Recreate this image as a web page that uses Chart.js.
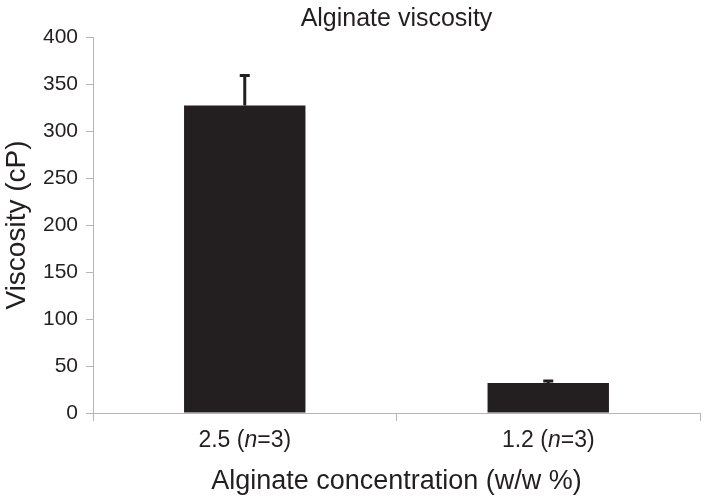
<!DOCTYPE html>
<html>
<head>
<meta charset="utf-8">
<script src="https://cdn.jsdelivr.net/npm/chart.js@4"></script>
<style>
  html, body { margin: 0; padding: 0; background: #fff; }
  #wrap { width: 705px; height: 498px; }
</style>
</head>
<body>
<div id="wrap"><canvas id="viscosityChart" width="705" height="498"></canvas></div>
<script>
// values
const concentrations = ['2.5', '1.2'];
const sampleSizes = [3, 3];
const viscosity = [327, 32];
const viscosityError = [33, 3];
const yTicks = [0, 50, 100, 150, 200, 250, 300, 350, 400];

const FONT = "'Liberation Sans', Arial, sans-serif";
const AXIS_GREY = '#b5b5b5';

// upward-only error bars with a small cap
const errorBars = {
  id: 'errorBars',
  afterDatasetsDraw(chart) {
    const ctx = chart.ctx;
    const yScale = chart.scales.y;
    const meta = chart.getDatasetMeta(0);
    ctx.save();
    ctx.strokeStyle = '#231f20';
    ctx.lineWidth = 3;
    meta.data.forEach((bar, i) => {
      const top = yScale.getPixelForValue(viscosity[i] + viscosityError[i]);
      ctx.beginPath();
      ctx.moveTo(bar.x, bar.y);
      ctx.lineTo(bar.x, top);
      ctx.moveTo(bar.x - 5, top + 1);
      ctx.lineTo(bar.x + 5, top + 1);
      ctx.stroke();
    });
    ctx.restore();
  }
};

// category labels with italic n
const categoryLabels = {
  id: 'categoryLabels',
  afterDraw(chart) {
    const ctx = chart.ctx;
    const xScale = chart.scales.x;
    const size = 23;
    ctx.save();
    ctx.fillStyle = '#231f20';
    ctx.textBaseline = 'middle';
    concentrations.forEach((c, i) => {
      const parts = [
        [c + ' (', 'normal'],
        ['n', 'italic'],
        ['=' + sampleSizes[i] + ')', 'normal']
      ];
      let total = 0;
      parts.forEach(p => {
        ctx.font = p[1] + ' ' + size + 'px ' + FONT;
        total += ctx.measureText(p[0]).width;
      });
      let x = xScale.getPixelForValue(i) - total / 2;
      parts.forEach(p => {
        ctx.font = p[1] + ' ' + size + 'px ' + FONT;
        ctx.fillText(p[0], x, xScale.top + 28);
        x += ctx.measureText(p[0]).width;
      });
    });
    ctx.restore();
  }
};

new Chart(document.getElementById('viscosityChart'), {
  type: 'bar',
  data: {
    labels: concentrations,
    datasets: [{
      data: viscosity,
      backgroundColor: '#231f20',
      borderWidth: 0,
      categoryPercentage: 0.8,
      barPercentage: 0.5
    }]
  },
  options: {
    responsive: false,
    animation: false,
    layout: { padding: { left: 0, right: 5, top: 0, bottom: 0 } },
    plugins: {
      legend: { display: false },
      tooltip: { enabled: false },
      title: {
        display: true,
        fullSize: false,
        text: 'Alginate viscosity',
        color: '#231f20',
        font: { family: FONT, size: 25, weight: 'normal' },
        padding: { top: 4, bottom: 3 }
      }
    },
    scales: {
      x: {
        offset: true,
        grid: { offset: true, drawOnChartArea: false, color: AXIS_GREY, tickLength: 8 },
        border: { color: AXIS_GREY },
        ticks: { color: 'transparent', font: { family: FONT, size: 22 } },
        title: {
          display: true,
          text: 'Alginate concentration (w/w %)',
          color: '#231f20',
          font: { family: FONT, size: 27 },
          padding: { top: 3, bottom: 0 }
        },
        afterFit(scale) { scale.height = 85; }
      },
      y: {
        min: 0,
        max: 400,
        afterBuildTicks(scale) { scale.ticks = yTicks.map(v => ({ value: v })); },
        grid: { drawOnChartArea: false, color: AXIS_GREY, tickLength: 7 },
        border: { color: AXIS_GREY },
        ticks: { color: '#231f20', font: { family: FONT, size: 21 }, padding: 8 },
        title: {
          display: true,
          text: 'Viscosity (cP)',
          color: '#231f20',
          font: { family: FONT, size: 28 },
          padding: { top: 0, bottom: 2 }
        },
        afterFit(scale) { scale.width = 93; }
      }
    }
  },
  plugins: [errorBars, categoryLabels]
});
</script>
</body>
</html>
